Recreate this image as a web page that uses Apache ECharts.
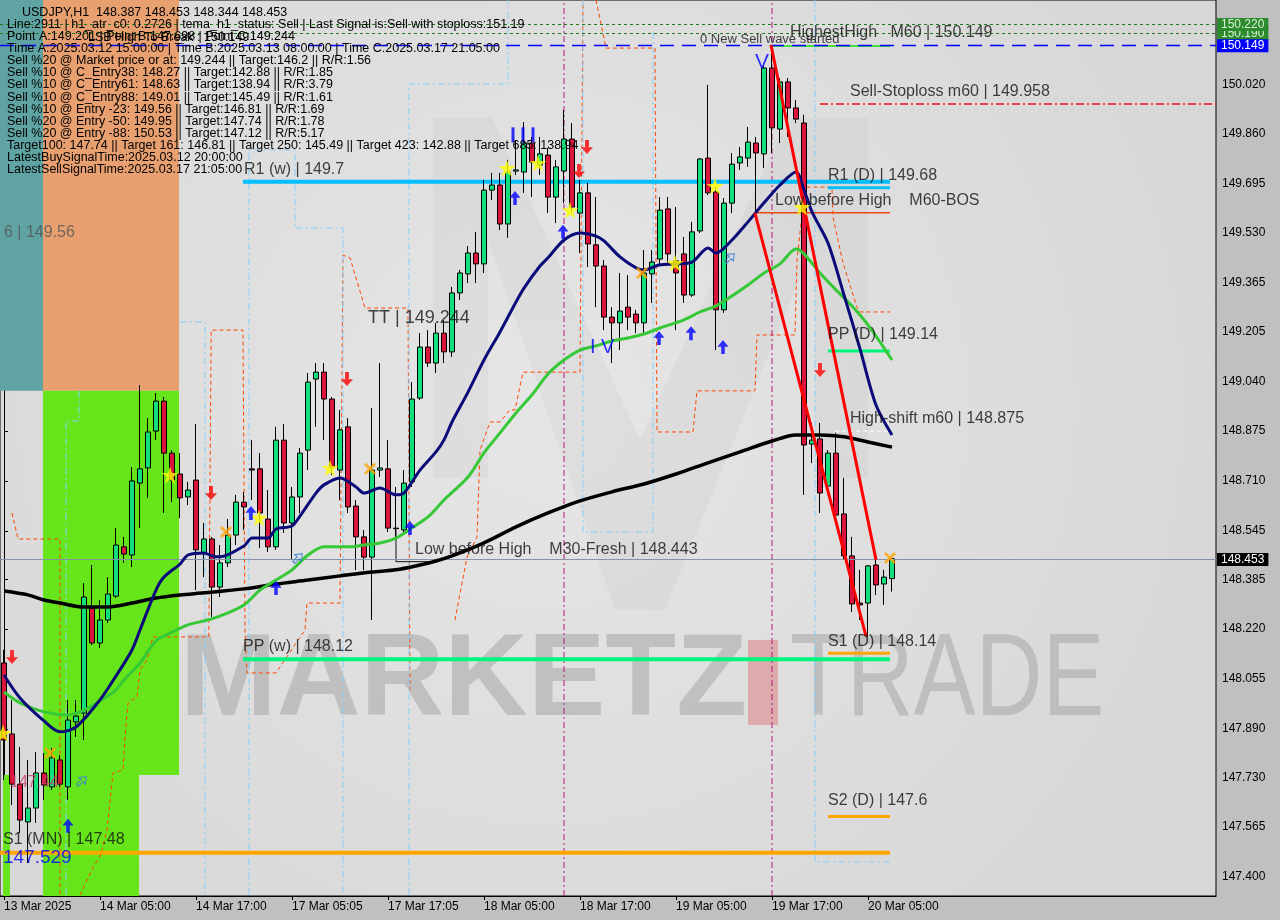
<!DOCTYPE html>
<html><head><meta charset="utf-8"><title>USDJPY H1</title>
<script src="https://cdn.jsdelivr.net/npm/echarts/dist/echarts.min.js"></script>
<style>html,body{margin:0;padding:0;background:#c0c0c0;}#chart{width:1280px;height:920px;}</style>
</head><body><div id="chart"></div>
<script>
// ---------- axis data ----------
const tickLabels = ['13 Mar 2025','14 Mar 05:00','14 Mar 17:00','17 Mar 05:05','17 Mar 17:05','18 Mar 05:00','18 Mar 17:00','19 Mar 05:00','19 Mar 17:00','20 Mar 05:00'];
const tickBars = [0,12,24,36,48,60,72,84,96,108];
const slotCount = 152;
const yTicks = [147.400,147.565,147.730,147.890,148.055,148.220,148.385,148.545,148.710,148.875,149.040,149.205,149.365,149.530,149.695,149.860,150.020];
const yMin = 147.337, yMax = 150.301;

// ---------- candles (H1) ----------
const opens  = [148.108,147.873,147.707,147.582,147.628,147.744,147.698,147.787,147.698,147.913,147.942,148.290,148.174,148.250,148.329,148.492,148.465,148.703,148.753,148.875,148.974,148.802,148.733,148.657,148.713,148.472,148.518,148.359,148.439,148.531,148.640,148.750,148.750,148.584,148.492,148.845,148.571,148.657,148.812,149.047,149.070,148.981,148.746,148.889,148.627,148.525,148.458,148.746,148.750,148.554,148.548,148.707,148.984,149.153,149.100,149.199,149.137,149.332,149.395,149.464,149.428,149.672,149.689,149.560,149.735,149.732,149.828,149.755,149.788,149.649,149.735,149.841,149.596,149.663,149.491,149.421,149.252,149.233,149.285,149.262,149.233,149.395,149.444,149.610,149.438,149.461,149.325,149.537,149.778,149.666,149.276,149.629,149.762,149.778,149.828,149.792,150.076,149.874,150.030,149.944,149.894,148.832,148.849,148.693,148.802,148.601,148.462,148.306,148.306,148.432,148.369,148.387];
const highs  = [148.151,147.985,147.830,147.787,147.813,147.810,147.827,147.803,147.985,147.985,148.372,148.432,148.316,148.392,148.554,148.525,148.756,149.027,148.918,149.001,148.988,148.812,148.802,148.707,148.898,148.571,148.525,148.498,148.584,148.664,148.673,148.845,148.802,148.680,148.889,148.898,148.690,148.819,149.067,149.100,149.100,148.988,148.945,148.918,148.647,148.548,148.951,149.100,148.845,148.690,148.746,149.037,149.199,149.209,149.233,149.242,149.352,149.408,149.487,149.534,149.706,149.729,149.729,149.772,149.838,149.897,149.848,149.848,149.811,149.772,149.937,149.894,149.706,149.696,149.649,149.441,149.285,149.398,149.391,149.276,149.474,149.474,149.649,149.649,149.616,149.517,149.567,149.778,150.020,149.682,149.646,149.795,149.815,149.881,149.848,150.083,150.149,150.043,150.043,149.970,149.921,148.902,148.902,148.812,148.869,148.720,148.525,148.416,148.432,148.449,148.416,148.453];
const lows   = [147.721,147.638,147.545,147.446,147.579,147.655,147.688,147.698,147.655,147.863,147.853,148.167,148.157,148.240,148.323,148.439,148.425,148.554,148.654,148.845,148.604,148.640,148.587,148.630,148.349,148.392,148.260,148.326,148.425,148.498,148.548,148.647,148.488,148.475,148.482,148.538,148.449,148.604,148.746,148.889,148.845,148.730,148.647,148.604,148.415,148.415,148.250,148.723,148.541,148.515,148.531,148.690,148.978,149.087,149.067,149.100,149.120,149.309,149.365,149.365,149.398,149.639,149.540,149.514,149.722,149.663,149.649,149.722,149.596,149.563,149.629,149.596,149.464,149.418,149.285,149.209,149.100,149.143,149.209,149.199,149.199,149.299,149.424,149.424,149.209,149.299,149.319,149.530,149.656,149.143,149.266,149.596,149.739,149.749,149.596,149.745,149.795,149.828,149.848,149.894,148.664,148.769,148.604,148.680,148.581,148.449,148.277,148.250,148.194,148.333,148.300,148.344];
const closes = [147.853,147.707,147.588,147.628,147.744,147.704,147.794,147.707,147.919,147.932,148.326,148.174,148.250,148.336,148.498,148.468,148.710,148.750,148.872,148.974,148.802,148.713,148.654,148.680,148.482,148.518,148.359,148.439,148.531,148.640,148.624,148.746,148.604,148.492,148.845,148.571,148.657,148.802,149.037,149.070,148.981,148.756,148.879,148.624,148.525,148.458,148.746,148.753,148.554,148.552,148.703,148.981,149.153,149.100,149.199,149.137,149.332,149.398,149.464,149.428,149.672,149.689,149.560,149.732,149.739,149.828,149.765,149.792,149.649,149.749,149.841,149.616,149.663,149.494,149.421,149.252,149.233,149.272,149.252,149.233,149.398,149.434,149.606,149.461,149.398,149.325,149.534,149.775,149.663,149.276,149.629,149.758,149.782,149.831,149.795,150.076,149.878,150.030,149.944,149.907,148.829,148.845,148.670,148.802,148.597,148.462,148.303,148.300,148.429,148.366,148.392,148.453];

// ---------- moving averages [bar, price] ----------
const navyMA = [[0,148.068],[2,147.992],[5,147.916],[7,147.88],[9,147.896],[12,147.986],[14,148.065],[16,148.151],[17,148.217],[19,148.349],[20,148.392],[22,148.435],[23,148.465],[25,148.472],[26,148.462],[27,148.459],[30,148.495],[31,148.521],[33,148.521],[34,148.551],[36,148.561],[37,148.594],[39,148.670],[40,148.697],[42,148.72],[44,148.69],[45,148.67],[47,148.687],[49,148.664],[50,148.67],[52,148.746],[54,148.806],[55,148.846],[56,148.905],[58,149.004],[60,149.11],[62,149.203],[64,149.302],[65,149.348],[67,149.421],[68,149.448],[70,149.507],[72,149.53],[74,149.52],[75,149.504],[77,149.451],[79,149.415],[80,149.408],[82,149.425],[84,149.428],[86,149.434],[88,149.481],[89,149.464],[91,149.507],[93,149.567],[95,149.63],[97,149.689],[99,149.732],[100,149.673],[101,149.6],[103,149.497],[105,149.325],[107,149.147],[109,148.961],[111,148.862]];
const greenMA = [[0,148.012],[2,147.976],[5,147.946],[8,147.936],[10,147.952],[12,147.982],[14,148.019],[15,148.052],[17,148.108],[19,148.181],[21,148.21],[23,148.234],[25,148.247],[27,148.263],[30,148.3],[32,148.349],[34,148.382],[36,148.416],[38,148.465],[40,148.492],[43,148.492],[45,148.498],[47,148.505],[49,148.521],[51,148.555],[53,148.591],[55,148.647],[58,148.723],[60,148.803],[62,148.869],[64,148.935],[66,148.995],[68,149.064],[70,149.11],[72,149.143],[74,149.157],[76,149.173],[78,149.183],[80,149.196],[82,149.216],[85,149.243],[87,149.269],[89,149.289],[91,149.322],[93,149.358],[95,149.398],[97,149.428],[99,149.477],[100,149.461],[102,149.398],[104,149.342],[106,149.289],[108,149.226],[111,149.11]];
const blackMA = [[0,148.346],[3,148.333],[5,148.316],[7,148.306],[10,148.293],[13,148.293],[16,148.306],[19,148.323],[22,148.333],[25,148.34],[30,148.353],[34,148.369],[38,148.382],[42,148.396],[46,148.409],[49,148.416],[52,148.432],[54,148.445],[56,148.462],[60,148.505],[64,148.558],[68,148.604],[72,148.644],[76,148.674],[80,148.7],[84,148.733],[88,148.77],[92,148.806],[96,148.842],[99,148.862],[102,148.862],[105,148.856],[108,148.839],[111,148.822]];

// ---------- channel step lines [bar, price] ----------
const orangePaths = [
  [[1,148.604],[1.75,148.518],[7,148.518],[7,147.34]],
  [[9.5,147.34],[11.125,147.433],[12,147.466],[12.875,147.555],[13.625,147.744],[14.875,147.754],[15.125,147.863],[15.5,147.975],[16.625,147.995],[17,148.085],[17.875,148.118],[18.625,148.194],[25.6,148.194],[25.9,149.209],[29.875,149.209],[30.125,148.217],[30.375,148.075],[34,148.075],[37.625,148.217],[37.875,148.306],[42,148.306],[42.375,149.457],[43.25,149.448],[45.125,149.282],[50.5,149.282],[50.75,148.018]],
  [[56.375,148.25],[57.875,148.458],[59.125,148.525],[59.5,148.812],[60.75,148.905],[62,148.905],[63.25,148.945],[63.875,148.945],[64.875,149.07],[72,149.07],[72.375,150.301]],
  [[74,150.301],[75.25,150.142],[81.375,150.142],[81.625,148.872],[86.125,148.872],[86.625,149.008],[93.875,149.008],[94.125,149.193],[98.875,149.193],[99.125,149.441],[100.125,149.682],[103.5,149.682],[103.625,149.583],[104.875,149.431],[106.625,149.285],[107,149.269],[110.75,149.269]]
];
const bluePaths = [
  [[9.375,149.008],[9.375,148.908],[7.75,148.908],[7.75,147.34]],
  [[22,149.236],[25.125,149.236],[25.125,147.34]],
  [[30.625,147.34],[30.625,149.805],[36.375,149.805],[36.375,149.547],[42.375,149.547],[42.375,147.34]],
  [[50.625,147.34],[50.625,150.023],[63,150.023],[63,150.301]],
  [[72.375,150.301],[72.375,148.541],[81.125,148.541],[81.125,150.202]],
  [[101.375,150.301],[101.375,147.45],[110.75,147.45]]
];
const sessionBars = [70, 96];

// ---------- zones [fromBar, toBar, low, high] ----------
const zones = [[-0.5,4.875,149.008,150.301],[4.875,21.875,149.008,150.301],[4.875,21.875,147.737,149.008],[4.875,16.875,147.337,147.737],[-0.125,0.75,147.337,147.737]];

// ---------- level lines [name, fromBar, toBar, price] ----------
const levels = [
  ['R1 (w)',29.875,110.75,149.70],['PP (w)',29.875,110.75,148.12],['S1 (MN)',-0.5,110.75,147.48],
  ['R1 (D)',103,110.75,149.68],['PP (D)',103,110.75,149.14],['S1 (D)',103,110.75,148.14],['S2 (D)',103,110.75,147.60],
  ['HighestHigh',95.75,110.75,150.149],['BOS',93.875,110.75,149.597],['Stoploss',102,151.5,149.957],
  ['HighShift',103.875,110.75,148.875]
];
const fresh = [[49,148.548],[49,148.443],[53.5,148.443]];
const trendLines = [[[95.875,150.152],[109,148.449]],[[93.875,149.596],[107.75,148.197]]];
const rightLevels = [150.190,150.220,150.149,148.453];

// ---------- signal markers [bar, price] ----------
const stars = [[-0.125,147.876],[20.75,148.730],[31.875,148.588],[40.75,148.753],[62.875,149.745],[66.75,149.762],[70.75,149.606],[83.875,149.431],[88.875,149.686],[99.75,149.616]];
const crosses = [[5.75,147.810],[27.75,148.541],[45.75,148.750],[79.75,149.398],[110.75,148.455]];
const upArrows = [[8,147.569],[30.875,148.604],[34,148.356],[50.75,148.554],[63.875,149.646],[69.875,149.534],[81.875,149.183],[85.875,149.199],[89.875,149.153]];
const hollowArrows = [[9.75,147.718],[36.75,148.455],[90.75,149.448]];
const downArrows = [[1,148.128],[25.875,148.670],[42.875,149.047],[72.875,149.815],[71.875,149.735],[102,149.077]];
const waveMarks = [[63.625,149.855],[64.875,149.855],[66.125,149.855]];

// ---------- text notes [text, bar, price] ----------
const notes = [
  ['R1 (w) | 149.7',30,149.739],['6 | 149.56',0,149.530],['TT | 149.244',45.5,149.249],
  ['Low before High    M30-Fresh | 148.443',51.375,148.482],['PP (w) | 148.12',29.875,148.161],
  ['S1 (MN) | 147.48',-0.125,147.523],['147.529',-0.125,147.463],['147.44',0.75,147.711],
  ['0 New Sell wave started',87,150.172],['HighestHigh   M60 | 150.149',98.25,150.192],
  ['Sell-Stoploss m60 | 149.958',105.75,149.997],['R1 (D) | 149.68',103,149.719],
  ['Low before High    M60-BOS',96.375,149.636],['PP (D) | 149.14',103,149.193],
  ['High-shift m60 | 148.875',105.75,148.915],['S1 (D) | 148.14',103,148.177],['S2 (D) | 147.6',103,147.651],
  ['I V',73.25,149.153],['V',93.875,150.096]
];
const infoLines = [
  'USDJPY,H1  148.387 148.453 148.344 148.453',
  'Line:2911 | h1_atr_c0: 0.2726 | tema_h1_status: Sell | Last Signal is:Sell with stoploss:151.19',
  'Point A:149.201 | Point B:147.698 | Point C:149.244',
  'Time A:2025.03.12 15:00:00 | Time B:2025.03.13 08:00:00 | Time C:2025.03.17 21:05:00',
  'Sell %20 @ Market price or at: 149.244 || Target:146.2 || R/R:1.56',
  'Sell %10 @ C_Entry38: 148.27 || Target:142.88 || R/R:1.85',
  'Sell %10 @ C_Entry61: 148.63 || Target:138.94 || R/R:3.79',
  'Sell %10 @ C_Entry88: 149.01 || Target:145.49 || R/R:1.61',
  'Sell %10 @ Entry -23: 149.56 || Target:146.81 || R/R:1.69',
  'Sell %20 @ Entry -50: 149.95 || Target:147.74 || R/R:1.78',
  'Sell %20 @ Entry -88: 150.53 || Target:147.12 || R/R:5.17',
  'Target100: 147.74 || Target 161: 146.81 || Target 250: 145.49 || Target 423: 142.88 || Target 685: 138.94',
  'LatestBuySignalTime:2025.03.12 20:00:00',
  'LatestSellSignalTime:2025.03.17 21:05:00'
];
const overlayText = 'LSB High To Break : 150.149';

// ---------- styles ----------
const FONT = 'Liberation Sans';
const zoneColors = ['#5fa3a3','#e9a070','#66e61a','#66e61a','#66e61a'];
const levelStyles = {
  'R1 (w)':{color:'#00bfff',width:4,type:'solid'}, 'PP (w)':{color:'#00f57a',width:4,type:'solid'},
  'S1 (MN)':{color:'#ffa500',width:4,type:'solid'}, 'R1 (D)':{color:'#00bfff',width:3,type:'solid'},
  'PP (D)':{color:'#00f57a',width:3,type:'solid'}, 'S1 (D)':{color:'#ffa500',width:3,type:'solid'},
  'S2 (D)':{color:'#ffa500',width:3,type:'solid'}, 'HighestHigh':{color:'#44dd44',width:2,type:'solid'},
  'BOS':{color:'#ee4a10',width:1.5,type:'solid'}, 'Stoploss':{color:'#ee1010',width:1.5,type:[8,3,2,3]},
  'HighShift':{color:'#ffffff',width:1,type:[4,3]}
};
const noteColors = ['#111','#555','#111','#111','#111','#111','#0000ff','#c8406a','#111','#111','#111','#111','#111','#111','#111','#111','#111','#0000ff','#0000ff'];
const noteSizes = [16,16,18,16,16,16,19,16,13,16,16,16,16,16,16,16,16,20,21];
const rightStyles = [
  {line:{color:'#1f7a1f',type:[3,3],width:1},bg:'#2d8b2d',fg:'#d8f0d8'},
  {line:{color:'#1f7a1f',type:[3,3],width:1},bg:'#2d8b2d',fg:'#d8f0d8'},
  {line:{color:'#0000ff',type:[14,8],width:1.3},bg:'#0000ff',fg:'#ffffff'},
  {line:{color:'#8494a6',type:'solid',width:1},bg:'#000000',fg:'#ffffff'}
];

// ---------- build ----------
const categories = Array.from({length: slotCount}, (_, i) => { const k = tickBars.indexOf(i); return k >= 0 ? tickLabels[k] : ''; });
const candleData = opens.map((o, i) => [o, closes[i], lows[i], highs[i]]);

function overlayLine(data, color, width, type, z, smooth) {
  return {type:'line', xAxisIndex:1, yAxisIndex:0, data, symbol:'none', silent:true, z,
    smooth: smooth || false, lineStyle:{color, width, type}, animation:false};
}
const ARROW = 'path://M50,0 L100,48 L66,48 L66,100 L34,100 L34,48 L0,48 Z';
const STAR = 'path://M50,0 L61,35 L98,35 L68,57 L79,91 L50,70 L21,91 L32,57 L2,35 L39,35 Z';
const XMARK = 'path://M0,16 L16,0 L50,34 L84,0 L100,16 L66,50 L100,84 L84,100 L50,66 L16,100 L0,84 L34,50 Z';
function markerSeries(data, symbol, size, color, rotate, extra) {
  return Object.assign({type:'scatter', xAxisIndex:1, yAxisIndex:0, data, symbol, symbolSize:size,
    symbolRotate: rotate || 0, itemStyle:{color}, z:8, silent:true, animation:false}, extra || {});
}

const series = [];
series.push({type:'scatter', xAxisIndex:1, yAxisIndex:0, data:[[0,148]], symbolSize:0, z:1, silent:true,
  markArea:{silent:true, data: zones.map((zn, i) => [{coord:[zn[0], zn[3]], itemStyle:{color:zoneColors[i], opacity:1}}, {coord:[zn[1], zn[2]]}])}});
orangePaths.forEach(p => series.push(overlayLine(p, '#ff4500', 1, [4,3], 3)));
bluePaths.forEach(p => series.push(overlayLine(p, '#87cefa', 1, [7,3,2,3], 3)));
sessionBars.forEach(b => series.push(overlayLine([[b, yMin], [b, yMax]], '#b5177f', 1, [6,3,2,3], 3)));
levels.forEach(l => { const s = levelStyles[l[0]]; series.push(overlayLine([[l[1], l[3]], [l[2], l[3]]], s.color, s.width, s.type, 3)); });
series.push(overlayLine(fresh, '#111', 1, 'solid', 3));
series.push({type:'candlestick', xAxisIndex:0, yAxisIndex:0, data:candleData, barWidth:5, z:4, silent:true, animation:false,
  itemStyle:{color:'#12e07a', color0:'#dc143c', borderColor:'#000', borderColor0:'#000', borderWidth:1},
  markLine:{symbol:'none', silent:true, animation:false, data: rightLevels.map((v, i) => ({yAxis:v,
    lineStyle:rightStyles[i].line,
    label:{show:true, position:'end', distance:1, formatter:v.toFixed(3), color:rightStyles[i].fg,
      backgroundColor:rightStyles[i].bg, padding:[1,4,0,4], fontSize:12, fontFamily:FONT}}))}});
series.push(overlayLine(blackMA, '#000000', 3.5, 'solid', 5, 0.3));
series.push(overlayLine(greenMA, '#36c836', 3, 'solid', 5, 0.3));
series.push(overlayLine(navyMA, '#0a0a78', 3, 'solid', 5, 0.3));
trendLines.forEach(t => series.push(overlayLine(t, '#ff0000', 3, 'solid', 6)));
series.push(markerSeries(stars, STAR, 17, '#ffff00'));
series.push(markerSeries(crosses, XMARK, 12, '#ffa500'));
series.push(markerSeries(upArrows, ARROW, [11,14], '#0000ff'));
series.push(markerSeries(downArrows, ARROW, [12,14], '#ff0000', 180));
series.push(markerSeries(hollowArrows, ARROW, [9,12], 'rgba(0,0,0,0)', -45, {itemStyle:{color:'rgba(0,0,0,0)', borderColor:'#3a7fd0', borderWidth:1.2}}));
series.push(markerSeries(waveMarks, 'rect', [3,15], '#0000ff'));
series.push({type:'scatter', xAxisIndex:1, yAxisIndex:0, symbolSize:0, z:9, silent:true, animation:false,
  data: notes.map((n, i) => ({value:[n[1], n[2]], label:{show:true, position:'right', distance:0, formatter:n[0],
    color:noteColors[i], fontSize:noteSizes[i], fontFamily:FONT}}))});

const graphics = [
  {type:'polygon', silent:true, z:1, shape:{points:[[433,478],[433,118],[492,118],[640,440],[788,118],[868,118],[868,478],[815,478],[815,240],[665,610],[615,610],[488,240],[488,478]]}, style:{fill:'rgba(150,150,150,0.09)'}},
  {type:'text', silent:true, z:1, x:180, y:683, style:{text:'MARKETZ', fontSize:116, fontWeight:'bold', fontFamily:FONT, fill:'rgba(165,165,165,0.55)', verticalAlign:'middle'}},
  {type:'rect', silent:true, z:1, shape:{x:748, y:640, width:30, height:85}, style:{fill:'rgba(220,120,120,0.5)'}},
  {type:'text', silent:true, z:1, x:790, y:683, scaleX:0.8, style:{text:'TRADE', fontSize:116, fontFamily:FONT, fill:'rgba(165,165,165,0.55)', verticalAlign:'middle'}}
];
infoLines.forEach((t, i) => graphics.push({type:'text', silent:true, z:20, x: i === 0 ? 22 : 7, y: 12.7 + 12.05 * i,
  style:{text:t, fontSize:12.5, fontFamily:FONT, fill:'#000', verticalAlign:'middle'}}));
graphics.push({type:'text', silent:true, z:20, x:88, y:37.8, style:{text:overlayText, fontSize:12.5, fontFamily:FONT, fill:'#000', verticalAlign:'middle'}});

const option = {
  animation:false,
  backgroundColor:'#c0c0c0',
  grid:{left:0, top:0, right:64, bottom:24, show:true, borderColor:'#000', borderWidth:1,
    backgroundColor:{type:'radial', x:0.45, y:0.45, r:0.8, colorStops:[{offset:0, color:'#e6e6e6'},{offset:1, color:'#d7d7d7'}]}},
  xAxis:[
    {type:'category', data:categories, boundaryGap:true,
      axisLine:{show:true, lineStyle:{color:'#000'}},
      axisTick:{show:true, alignWithLabel:true, interval:(i, v) => v !== '', length:4, lineStyle:{color:'#000'}},
      axisLabel:{interval:(i, v) => v !== '', align:'left', margin:5, color:'#000', fontSize:12, fontFamily:FONT},
      splitLine:{show:false}},
    {type:'value', min:-0.5, max:slotCount - 0.5, show:false}
  ],
  yAxis:{type:'value', position:'right', min:yMin, max:yMax,
    splitLine:{show:false},
    axisLine:{show:true, lineStyle:{color:'#000'}},
    axisTick:{show:true, customValues:yTicks, length:4, lineStyle:{color:'#000'}},
    axisLabel:{customValues:yTicks, formatter:v => v.toFixed(3), color:'#000', fontSize:12, fontFamily:FONT, margin:6}},
  graphic:{elements:graphics},
  series
};
const chart = echarts.init(document.getElementById('chart'));
chart.setOption(option);
</script></body></html>
